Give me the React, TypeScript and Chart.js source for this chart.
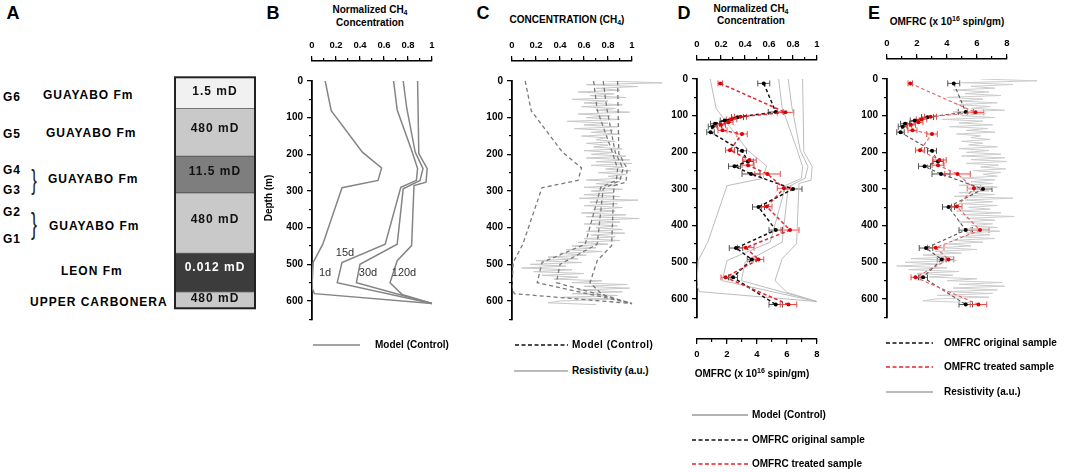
import React, { useEffect, useRef } from "react";
import { Chart, registerables } from "chart.js";

Chart.register(...registerables);

// ------------------------------------------------------------------ data
// Panel A: lithological column (permeability label / thickness in m)
const LAYER_LABELS = ["1.5 mD", "480 mD", "11.5 mD", "480 mD", "0.012 mD", "480 mD"];
const LAYER_THICKNESS = [85, 130, 100, 165, 105, 45];

// Model (Control) normalized CH4 profiles: value / depth (m)
const M1D_X = [0.11, 0.16, 0.42, 0.58, 0.55, 0.25, 0.09, 0.01, 0.0, 0.02, 1.0];
const M1D_D = [0, 81, 194, 237, 271, 291, 445, 495, 563, 580, 607];
const M15_X = [0.68, 0.71, 0.83, 0.88, 0.87, 0.74, 0.61, 0.25, 0.21, 1.0];
const M15_D = [0, 79, 189, 239, 271, 290, 445, 495, 550, 607];
const M30_X = [0.76, 0.79, 0.86, 0.925, 0.9, 0.76, 0.71, 0.4, 0.37, 1.0];
const M30_D = [0, 75, 194, 239, 271, 294, 445, 500, 550, 607];
const M120_X = [0.88, 0.89, 0.96, 0.95, 0.85, 0.83, 0.71, 0.65, 0.75, 1.0];
const M120_D = [0, 198, 239, 276, 285, 449, 490, 550, 582, 607];
const MODEL_NAMES = ["1d", "15d", "30d", "120d"];

// OMFRC (x 10^16 spin/gm): original sample
const ORIG_DEPTH = [12, 90, 104, 113, 122, 130, 145, 196, 225, 238, 259, 300, 349, 412, 461, 492, 541, 615];
const ORIG_OMFRC = [4.45, 5.25, 2.7, 1.85, 1.2, 1.05, 0.9, 3.0, 3.4, 2.5, 3.6, 6.4, 4.1, 5.25, 2.6, 3.65, 2.4, 5.25];
const ORIG_ERR = [0.4, 0.5, 0.4, 0.3, 0.3, 0.3, 0.25, 0.3, 0.35, 0.4, 0.6, 0.6, 0.4, 0.45, 0.45, 0.3, 0.3, 0.45];
// OMFRC treated sample
const TREAT_DEPTH = [12, 91, 103, 110, 118, 125, 140, 150, 194, 221, 235, 259, 298, 348, 412, 460, 492, 541, 615];
const TREAT_OMFRC = [1.55, 5.9, 2.9, 2.3, 2.1, 1.6, 1.7, 3.0, 2.2, 3.5, 3.4, 4.7, 5.8, 4.65, 6.2, 3.25, 4.1, 1.9, 6.1];
const TREAT_ERR = [0.15, 0.55, 0.4, 0.35, 0.3, 0.3, 0.3, 0.35, 0.3, 0.45, 0.4, 0.85, 0.45, 0.35, 0.6, 0.55, 0.35, 0.3, 0.55];

// Resistivity (a.u., normalized)
const RES_DEPTH = [
  0, 5, 10, 15, 20, 25, 30, 35, 40, 45, 50, 55, 60, 65, 70, 75, 80, 85, 90, 95, 100,
  105, 110, 115, 120, 125, 130, 135, 140, 145, 150, 155, 160, 165, 170, 175, 180, 185, 190, 195, 200,
  205, 210, 215, 220, 225, 230, 235, 240, 245, 250, 255, 260, 265, 270, 275, 280, 285, 290, 295, 300,
  305, 310, 315, 320, 325, 330, 335, 340, 345, 350, 355, 360, 365, 370, 375, 380, 385, 390, 395, 400,
  405, 410, 415, 420, 425, 430, 435, 440, 445, 450,
  455, 460, 465, 470, 475, 480, 485, 490, 495, 500, 505, 510, 515, 520, 525, 530, 535, 540,
  545, 550, 555, 560, 565, 570, 575, 580, 585, 590, 595, 600, 605, 610,
];
const RES_VALUE = [
  0.78, 1.25, 0.62, 1.05, 0.7,
  0.9, 0.55, 0.85, 0.65, 0.95, 0.5, 0.8, 0.6, 0.92, 0.58, 0.86, 0.7, 0.98, 0.55, 0.82, 0.62,
  0.9, 0.46, 0.8, 0.6, 0.88, 0.52, 0.84, 0.66, 0.9, 0.58, 0.78, 0.7, 0.86, 0.62, 0.8, 0.68, 0.92, 0.6, 0.85, 0.66,
  0.95, 0.62, 0.98, 0.7, 1.0, 0.66, 0.93, 0.78, 0.99, 0.72, 0.95, 0.8, 0.92, 0.62, 0.9, 0.7, 0.88, 0.6, 0.92, 0.66,
  0.85, 0.6, 0.9, 0.56, 1.05, 0.65, 0.88, 0.6, 0.92, 0.68, 0.86, 0.58, 0.95, 0.62, 1.06, 0.66, 0.9, 0.6, 0.88, 0.7,
  0.92, 0.62, 0.94, 0.66, 0.86, 0.6, 0.9, 0.55, 0.8, 0.5,
  0.7, 0.45, 0.75, 0.4, 0.62, 0.3, 0.55, 0.2, 0.58, 0.15, 0.45, 0.08, 0.5, 0.18, 0.6, 0.25, 0.55, 0.35,
  0.75, 0.5, 0.96, 0.6, 0.98, 0.55, 0.92, 0.5, 0.88, 0.42, 0.85, 0.4, 0.3, 0.7,
];

// ------------------------------------------------------------------ styles / layout
const FONT = "'Liberation Sans', Arial, Helvetica, sans-serif";
Chart.defaults.font.family = FONT;
const AXIS_PX = 120; // pixel length of a full horizontal axis
const PX_PER_M = 220 / 600;
const DEPTH_MAX = 650;
const LAYER_COLORS = ["#f1f1f1", "#c9c9c9", "#7e7e7e", "#c9c9c9", "#3c3c3c", "#c9c9c9"];
const LAYER_TEXT = ["#111", "#111", "#111", "#111", "#fff", "#111"];
const RED = "#e8222e";

const tickFont = { size: 9.5, weight: "bold" as const, family: FONT };
const noPlugins = { legend: { display: false }, tooltip: { enabled: false } };

const pts = (xs: number[], ds: number[]) => xs.map((x, i) => ({ x, y: ds[i] }));
const MODELS = [pts(M1D_X, M1D_D), pts(M15_X, M15_D), pts(M30_X, M30_D), pts(M120_X, M120_D)];

const errorBarPlugin = {
  id: "errbars",
  beforeDatasetsDraw(chart: any, _a: any, opts: any) {
    const sets = (opts && opts.sets) || [];
    const ctx = chart.ctx;
    for (const s of sets) {
      const meta = chart.getDatasetMeta(s.index);
      const xs = chart.scales[meta.xAxisID];
      const ds = chart.data.datasets[s.index];
      ctx.save();
      ctx.strokeStyle = s.color;
      ctx.lineWidth = 1;
      meta.data.forEach((pt: any, i: number) => {
        const v = ds.data[i].x;
        const e = s.err[i];
        const xa = xs.getPixelForValue(v - e);
        const xb = xs.getPixelForValue(v + e);
        const y = pt.y;
        ctx.beginPath();
        ctx.moveTo(xa, y);
        ctx.lineTo(xb, y);
        ctx.moveTo(xa, y - 3);
        ctx.lineTo(xa, y + 3);
        ctx.moveTo(xb, y - 3);
        ctx.lineTo(xb, y + 3);
        ctx.stroke();
      });
      ctx.restore();
    }
  },
};

const framePlugin = {
  id: "frame",
  afterDatasetsDraw(chart: any) {
    const { ctx, chartArea: a } = chart;
    ctx.save();
    ctx.strokeStyle = "#222";
    ctx.lineWidth = 2;
    ctx.strokeRect(a.left, a.top, a.right - a.left, a.bottom - a.top);
    ctx.restore();
  },
};

// ---- axis-only chart (detached horizontal axes)
function axisGeom(x0: number, lineY: number, pos: "top" | "bottom") {
  return { left: x0 - 20, top: pos === "top" ? lineY - 30 : lineY - 4, width: AXIS_PX + 40, height: 34 };
}
function axisConfig(min: number, max: number, major: number, minor: number, pos: "top" | "bottom", fmt: (v: number) => string) {
  return {
    type: "scatter",
    data: { datasets: [] },
    options: {
      responsive: false,
      animation: false,
      events: [],
      layout: { padding: { left: 20, right: 20, top: 0, bottom: 0 } },
      plugins: noPlugins,
      scales: {
        x: {
          type: "linear", position: pos, min, max, weight: 1,
          ticks: { stepSize: major, maxTicksLimit: Math.round((max - min) / major) + 1, font: tickFont, color: "#000", padding: 5, maxRotation: 0, autoSkip: false, callback: (v: any) => fmt(Number(v)) },
          grid: { drawOnChartArea: false, drawTicks: true, tickLength: 5, color: "#000", lineWidth: 1.2 },
          border: { display: true, color: "#000", width: 1.6 },
          afterFit: (s: any) => { s.height = 30; },
        },
        x2: {
          type: "linear", axis: "x", position: pos, min, max, weight: 0,
          ticks: { stepSize: minor, maxTicksLimit: Math.round((max - min) / minor) + 1, display: false },
          grid: { drawOnChartArea: false, drawTicks: true, tickLength: 3, color: "#000", lineWidth: 1.2 },
          border: { display: false },
          afterFit: (s: any) => { s.height = 0; },
        },
        y: { display: false, min: 0, max: 1 },
      },
    },
  };
}

// ---- main depth panels
const Y_LABEL_W = 44;
function mainGeom(axisX: number, depth0Y: number, xMax: number) {
  return { left: axisX - Y_LABEL_W, top: depth0Y - 10, width: Y_LABEL_W + xMax * AXIS_PX + 6, height: 262 };
}
function mainConfig(xMax: number, datasets: any[], errSets: any[] = []) {
  const plotH = DEPTH_MAX * PX_PER_M;
  return {
    type: "scatter",
    data: { datasets },
    plugins: [errorBarPlugin],
    options: {
      responsive: false,
      animation: false,
      events: [],
      layout: { padding: { left: 0, top: 10, right: 6, bottom: 262 - 10 - plotH } },
      plugins: { ...noPlugins, errbars: { sets: errSets } },
      scales: {
        x: { type: "linear", display: false, min: 0, max: xMax },
        xo: { type: "linear", axis: "x", display: false, min: 0, max: xMax * 8 },
        y: {
          type: "linear", position: "left", min: 0, max: DEPTH_MAX, reverse: true, weight: 1,
          ticks: { stepSize: 100, maxTicksLimit: 8, includeBounds: false, font: { ...tickFont, size: 10 }, color: "#000", padding: 4 },
          grid: { drawOnChartArea: false, drawTicks: true, tickLength: 5, color: "#000", lineWidth: 1.2 },
          border: { display: true, color: "#000", width: 1.8 },
          afterFit: (s: any) => { s.width = Y_LABEL_W; },
        },
        y2: {
          type: "linear", axis: "y", position: "left", min: 0, max: DEPTH_MAX, reverse: true, weight: 0,
          ticks: { stepSize: 50, maxTicksLimit: 14, display: false },
          grid: { drawOnChartArea: false, drawTicks: true, tickLength: 3, color: "#000", lineWidth: 1.2 },
          border: { display: false },
          afterFit: (s: any) => { s.width = 0; },
        },
      },
    },
  };
}

const lineDs = (data: any[], color: string, width: number, dash: number[], order: number, xAxisID = "x") => ({
  data, borderColor: color, borderWidth: width, borderDash: dash, showLine: true, pointRadius: 0,
  pointHoverRadius: 0, fill: false, tension: 0, order, xAxisID, yAxisID: "y",
});
const sampleDs = (xs: number[], ds: number[], line: string, point: string, width: number, order: number) => ({
  data: pts(xs, ds), borderColor: line, borderWidth: width, borderDash: [3.5, 2.5], showLine: true,
  pointRadius: 2, pointBackgroundColor: point, pointBorderWidth: 0, pointHoverRadius: 0, fill: false,
  tension: 0, order, xAxisID: "xo", yAxisID: "y",
});

const fmtDec = (v: number) => `${+v.toFixed(2)}`;

// ---- panel configs
const colGeom = { left: 170, top: 72, width: 90, height: 241 };
function columnConfig() {
  return {
    type: "bar",
    data: {
      labels: ["column"],
      datasets: LAYER_THICKNESS.map((t, i) => ({
        label: LAYER_LABELS[i], data: [t], backgroundColor: LAYER_COLORS[i], borderColor: "#555",
        borderWidth: 0.8, borderSkipped: false, barPercentage: 1, categoryPercentage: 1,
      })),
    },
    plugins: [framePlugin],
    options: {
      responsive: false, animation: false, events: [],
      layout: { padding: { left: 5, right: 5, top: 5.3, bottom: 4.7 } },
      plugins: noPlugins,
      scales: {
        x: { display: false, stacked: true },
        y: { display: false, stacked: true, min: 0, max: LAYER_THICKNESS.reduce((a, b) => a + b, 0), reverse: true },
      },
    },
  };
}

const B_X = 312, C_X = 512, D_X = 697, E_X = 887;
const bGeom = mainGeom(B_X, 81, 1.2);
const cGeom = mainGeom(C_X, 81, 1.35);
const dGeom = mainGeom(D_X, 79, 1.2);
const eGeom = mainGeom(E_X, 79, 1.35);

const bConfig = () => mainConfig(1.2, MODELS.map((m) => lineDs(m, "#858585", 1.5, [], 5)));
const cConfig = () =>
  mainConfig(1.35, [
    ...MODELS.map((m) => lineDs(m, "#7a7a7a", 1.3, [4, 3], 5)),
    lineDs(pts(RES_VALUE, RES_DEPTH), "#c8c8c8", 1, [], 10),
  ]);
const dConfig = () =>
  mainConfig(
    1.2,
    [
      sampleDs(TREAT_OMFRC, TREAT_DEPTH, RED, "#e00000", 1.5, 1),
      sampleDs(ORIG_OMFRC, ORIG_DEPTH, "#111", "#000", 1.5, 2),
      ...MODELS.map((m) => lineDs(m, "#bdbdbd", 1, [], 5)),
    ],
    [
      { index: 1, err: ORIG_ERR, color: "#555" },
      { index: 0, err: TREAT_ERR, color: "#f04848" },
    ],
  );
const eConfig = () =>
  mainConfig(
    1.35,
    [
      sampleDs(TREAT_OMFRC, TREAT_DEPTH, "#e86060", "#e00000", 1.1, 1),
      sampleDs(ORIG_OMFRC, ORIG_DEPTH, "#555", "#000", 1.1, 2),
      lineDs(pts(RES_VALUE, RES_DEPTH), "#cdcdcd", 1, [], 10),
    ],
    [
      { index: 1, err: ORIG_ERR, color: "#555" },
      { index: 0, err: TREAT_ERR, color: "#f04848" },
    ],
  );

// ------------------------------------------------------------------ components
function ChartCanvas({ g, make }: { g: { left: number; top: number; width: number; height: number }; make: () => any }) {
  const ref = useRef<HTMLCanvasElement | null>(null);
  useEffect(() => {
    if (!ref.current) return;
    const chart = new Chart(ref.current, make());
    return () => chart.destroy();
  }, []);
  return (
    <canvas
      ref={ref}
      width={Math.round(g.width)}
      height={Math.round(g.height)}
      style={{ position: "absolute", left: g.left, top: g.top, width: Math.round(g.width), height: Math.round(g.height) }}
    />
  );
}

type TxtProps = { x: number; y: number; children: any; size?: number; bold?: boolean; anchor?: "start" | "middle" | "end"; color?: string; ls?: number; rotate?: boolean; extra?: string };
function Txt({ x, y, children, size = 10, bold = true, anchor = "start", color = "#000", ls = 0, rotate = false, extra = "" }: TxtProps) {
  const tx = anchor === "middle" ? "-50%" : anchor === "end" ? "-100%" : "0";
  return (
    <div
      style={{
        position: "absolute", left: x, top: y, transform: `translate(${tx}, -50%)${rotate ? " rotate(-90deg)" : ""}${extra}`,
        font: `${bold ? "bold " : ""}${size}px ${FONT}`, color, whiteSpace: "nowrap", letterSpacing: ls, lineHeight: 1,
      }}
    >
      {children}
    </div>
  );
}

function LegendLine({ x1, x2, y, color, dash, width = 1.6 }: { x1: number; x2: number; y: number; color: string; dash?: string; width?: number }) {
  return (
    <svg style={{ position: "absolute", left: x1, top: y - 3 }} width={x2 - x1} height={6}>
      <line x1={0} y1={3} x2={x2 - x1} y2={3} stroke={color} strokeWidth={width} strokeDasharray={dash} />
    </svg>
  );
}

const CH4 = (
  <>
    CH<sub style={{ fontSize: 7, verticalAlign: "-2px" }}>4</sub>
  </>
);
const OMFRC_TITLE = (
  <>
    OMFRC (x 10<sup style={{ fontSize: 7, verticalAlign: "4px" }}>16</sup> spin/gm)
  </>
);

export default function App() {
  const colCenters = [90.7, 128, 170.7, 219, 266.7, 297.7];
  const aTxt = { size: 12, ls: 1 };
  const brace = { size: 28, bold: false, anchor: "middle" as const, color: "#222", extra: " scaleX(0.6)" };
  return (
    <div style={{ position: "absolute", left: 0, top: 0, width: 1072, height: 472, background: "#fff", overflow: "hidden" }}>
      {/* panel letters */}
      <Txt x={13} y={13} size={18} anchor="middle">A</Txt>
      <Txt x={273} y={13} size={18} anchor="middle">B</Txt>
      <Txt x={483} y={13} size={18} anchor="middle">C</Txt>
      <Txt x={684} y={13} size={18} anchor="middle">D</Txt>
      <Txt x={874} y={13} size={18} anchor="middle">E</Txt>

      {/* Panel A */}
      <ChartCanvas g={colGeom} make={columnConfig} />
      {LAYER_LABELS.map((l, i) => (
        <Txt key={i} x={215} y={colCenters[i]} anchor="middle" color={LAYER_TEXT[i]} {...aTxt}>{l}</Txt>
      ))}
      <Txt x={3} y={96.7} {...aTxt}>G6</Txt>
      <Txt x={43} y={94.5} {...aTxt}>GUAYABO Fm</Txt>
      <Txt x={3} y={134.3} {...aTxt}>G5</Txt>
      <Txt x={46} y={133.3} {...aTxt}>GUAYABO Fm</Txt>
      <Txt x={3} y={170} {...aTxt}>G4</Txt>
      <Txt x={3} y={190} {...aTxt}>G3</Txt>
      <Txt x={34} y={180} {...brace}>{"}"}</Txt>
      <Txt x={48} y={179} {...aTxt}>GUAYABO Fm</Txt>
      <Txt x={3} y={211.7} {...aTxt}>G2</Txt>
      <Txt x={3} y={239.3} {...aTxt}>G1</Txt>
      <Txt x={34} y={224} {...brace} size={30}>{"}"}</Txt>
      <Txt x={49} y={226} {...aTxt}>GUAYABO Fm</Txt>
      <Txt x={61} y={270.7} {...aTxt}>LEON Fm</Txt>
      <Txt x={30} y={301.7} {...aTxt}>UPPER CARBONERA</Txt>

      {/* Panel B */}
      <Txt x={370} y={10} anchor="middle">Normalized {CH4}</Txt>
      <Txt x={370} y={23} anchor="middle">Concentration</Txt>
      <ChartCanvas g={axisGeom(B_X, 60.5, "top")} make={() => axisConfig(0, 1, 0.2, 0.1, "top", fmtDec)} />
      <ChartCanvas g={bGeom} make={bConfig} />
      <Txt x={269} y={198} anchor="middle" rotate>Depth (m)</Txt>
      <Txt x={319} y={272} size={11} bold={false} color="#333">{MODEL_NAMES[0]}</Txt>
      <Txt x={345} y={252} size={11} bold={false} color="#333" anchor="middle">{MODEL_NAMES[1]}</Txt>
      <Txt x={368} y={272} size={11} bold={false} color="#333" anchor="middle">{MODEL_NAMES[2]}</Txt>
      <Txt x={404} y={272} size={11} bold={false} color="#333" anchor="middle">{MODEL_NAMES[3]}</Txt>
      <LegendLine x1={313} x2={360} y={345} color="#858585" width={1.5} />
      <Txt x={375} y={345}>Model (Control)</Txt>

      {/* Panel C */}
      <Txt x={567} y={20} anchor="middle">CONCENTRATION ({CH4})</Txt>
      <ChartCanvas g={axisGeom(C_X, 60.5, "top")} make={() => axisConfig(0, 1, 0.2, 0.1, "top", fmtDec)} />
      <ChartCanvas g={cGeom} make={cConfig} />
      <LegendLine x1={515} x2={568} y={345} color="#111" dash="4 2.5" />
      <Txt x={572} y={345} ls={0.5}>Model (Control)</Txt>
      <LegendLine x1={514} x2={568} y={371} color="#bbb" width={1.8} />
      <Txt x={572} y={371}>Resistivity (a.u.)</Txt>

      {/* Panel D */}
      <Txt x={751} y={8.5} anchor="middle">Normalized {CH4}</Txt>
      <Txt x={751} y={21} anchor="middle">Concentration</Txt>
      <ChartCanvas g={axisGeom(D_X, 59.5, "top")} make={() => axisConfig(0, 1, 0.2, 0.1, "top", fmtDec)} />
      <ChartCanvas g={dGeom} make={dConfig} />
      <ChartCanvas g={axisGeom(D_X, 338.5, "bottom")} make={() => axisConfig(0, 8, 2, 1, "bottom", fmtDec)} />
      <Txt x={752} y={373} anchor="middle">{OMFRC_TITLE}</Txt>
      <LegendLine x1={692} x2={748} y={415} color="#999" width={1.5} />
      <Txt x={752} y={415}>Model (Control)</Txt>
      <LegendLine x1={692} x2={748} y={439.5} color="#111" dash="4 2.5" />
      <Txt x={752} y={439.5}>OMFRC original sample</Txt>
      <LegendLine x1={692} x2={748} y={463.5} color={RED} dash="4 2.5" />
      <Txt x={752} y={463.5}>OMFRC treated sample</Txt>

      {/* Panel E */}
      <Txt x={947} y={21} anchor="middle">{OMFRC_TITLE}</Txt>
      <ChartCanvas g={axisGeom(E_X, 59, "top")} make={() => axisConfig(0, 8, 2, 1, "top", fmtDec)} />
      <ChartCanvas g={eGeom} make={eConfig} />
      <LegendLine x1={886} x2={933} y={342.7} color="#111" dash="4 2.5" />
      <Txt x={944} y={342.7}>OMFRC original sample</Txt>
      <LegendLine x1={886} x2={933} y={367} color={RED} dash="4 2.5" />
      <Txt x={944} y={367}>OMFRC treated sample</Txt>
      <LegendLine x1={886} x2={933} y={392} color="#bbb" width={1.8} />
      <Txt x={944} y={392}>Resistivity (a.u.)</Txt>
    </div>
  );
}
